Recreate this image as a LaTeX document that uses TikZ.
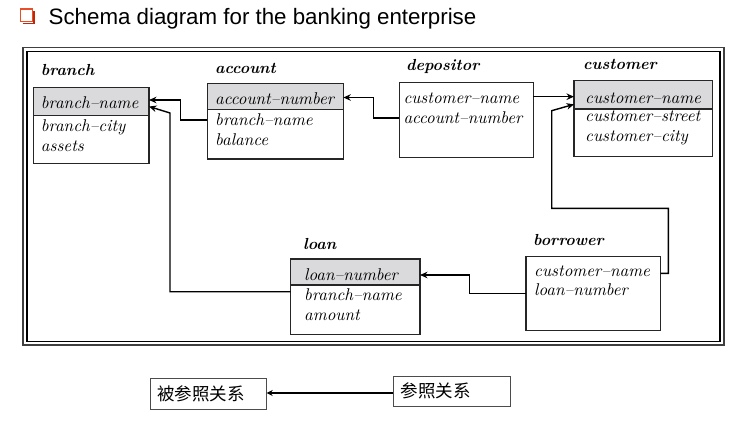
\documentclass[tikz,border=0pt]{standalone}
\usepackage{fontspec}
\newfontfamily\titlefont{Liberation Sans}
\newfontfamily\cjk{Noto Sans CJK SC}
\newfontfamily\fldfont{lmroman10-italic}[Extension=.otf]
\newfontfamily\ttlfont{lmroman10-bolditalic}[Extension=.otf]
\usetikzlibrary{arrows.meta}
\definecolor{hdrgray}{RGB}{218,218,220}
\definecolor{chk}{RGB}{232,78,40}
\definecolor{chkdark}{RGB}{190,40,10}
\begin{document}
\begin{tikzpicture}[x=1pt,y=-1pt,
  box/.style={draw=black!85, line width=1.4pt, anchor=north west, inner sep=0pt, outer sep=0pt},
  hdr/.style={path picture={
     \fill[hdrgray] (path picture bounding box.north west) rectangle ([yshift=-#1]path picture bounding box.north east);
     \draw[black!85, line width=1.3pt] ([yshift=-#1]path picture bounding box.north west) -- ([yshift=-#1]path picture bounding box.north east);}},
  fld/.style={anchor=base west, inner sep=0pt, font=\fldfont\fontsize{17}{20}\selectfont},
  ttl/.style={anchor=base west, inner sep=0pt, font=\ttlfont\fontsize{16}{20}\selectfont},
  conn/.style={line width=1.4pt, -{Stealth[length=7.5pt,width=6.5pt]}},
  lbox/.style={draw=black!70, line width=0.9pt, anchor=north west, inner sep=0pt, outer sep=0pt},
  ctxt/.style={anchor=west, inner sep=0pt, font=\cjk\fontsize{17.5}{20}\selectfont}
]
\useasboundingbox (0,0) rectangle (735,420);

% title
\draw[chkdark, line width=1.6pt] (22.5,23.5) -- (34,23.5) -- (34,11);
\draw[chk, line width=1.4pt, fill=white] (20.5,9) rectangle (32.5,21.5);
\node[anchor=base west, inner sep=0pt, font=\titlefont\fontsize{22.3}{26}\selectfont] (title) at (48.5,25) {Schema diagram for the banking enterprise};

% frame
\draw[black!75, line width=1.8pt] (23,47.5) rectangle (724,345);
\draw[black, line width=1.2pt] (27,51.5) rectangle (720,341.5);

% tables
\node[box, hdr=28pt, minimum width=115.7pt, minimum height=75.6pt] (branch) at (33.3,87.7) {};
\node[box, hdr=25.6pt, minimum width=136pt, minimum height=75.3pt] (account) at (207.3,83.7) {};
\node[box, minimum width=134pt, minimum height=74.6pt] (depositor) at (399.3,82.7) {};
\node[box, hdr=28.3pt, minimum width=138.3pt, minimum height=76pt] (customer) at (574,80.7) {};
\node[box, hdr=26pt, minimum width=129.3pt, minimum height=75.3pt] (loan) at (290.7,259) {};
\node[box, minimum width=134.7pt, minimum height=74pt] (borrower) at (526,256.7) {};

% titles
\node[ttl] (branchT) at (40.7,75) {branch};
\node[ttl] (accountT) at (215,73.3) {account};
\node[ttl] (depositorT) at (406,70.7) {depositor};
\node[ttl] (customerT) at (583,70) {customer};
\node[ttl] (loanT) at (303,249) {loan};
\node[ttl] (borrowerT) at (533,245) {borrower};

% fields
\node[fld] (br1) at (40.7,108.3) {branch\textendash name};
\node[fld] (br2) at (40.7,131.2) {branch\textendash city};
\node[fld] (br3) at (40.7,151.7) {assets};

\node[fld] (ac1) at (215,104.5) {account\textendash number};
\node[fld] (ac2) at (215,125) {branch\textendash name};
\node[fld] (ac3) at (215,145.7) {balance};

\node[fld] (de1) at (403.3,103.3) {customer\textendash name};
\node[fld] (de2) at (403.3,123.3) {account\textendash number};

\node[fld] (cu1) at (585,103.3) {customer\textendash name};
\node[fld] (cu2) at (585,121.7) {customer\textendash street};
\node[fld] (cu3) at (585,141.7) {customer\textendash city};

\node[fld] (lo1) at (304,280) {loan\textendash number};
\node[fld] (lo2) at (304,300) {branch\textendash name};
\node[fld] (lo3) at (304,320) {amount};

\node[fld] (bo1) at (534,276) {customer\textendash name};
\node[fld] (bo2) at (534,295) {loan\textendash number};

% connectors
\draw[conn] (account.west |- 0,120) -| (180.7,100) -- (branch.east |- 0,100);
\draw[conn] (loan.west |- 0,291.7) -| (170,113) -- (branch.east |- 0,106.5);
\draw[conn] (depositor.west |- 0,118) -| (373.3,97.5) -- (account.east |- 0,97.5);
\draw[conn] (depositor.east |- 0,96.7) -- (customer.west |- 0,96.7);
\draw[conn] (borrower.east |- 0,273.3) -| (668.3,208.3) -| (551.7,110.7) -- (customer.west |- 0,104.3);
\draw[conn] (borrower.west |- 0,293.3) -| (469.3,275) -- (loan.east |- 0,275);

% legend
\node[lbox, minimum width=116pt, minimum height=31pt] (refd) at (150.7,378.3) {};
\node[lbox, minimum width=116.7pt, minimum height=30.7pt] (refg) at (393.3,376) {};
\node[ctxt] (refdT) at (157,393.8) {被参照关系};
\node[ctxt] (refgT) at (400.5,391.3) {参照关系};
\draw[line width=2pt, -{Stealth[length=6pt,width=6pt]}] (refg.west |- 0,393) -- (refd.east |- 0,393);
\end{tikzpicture}
\end{document}
